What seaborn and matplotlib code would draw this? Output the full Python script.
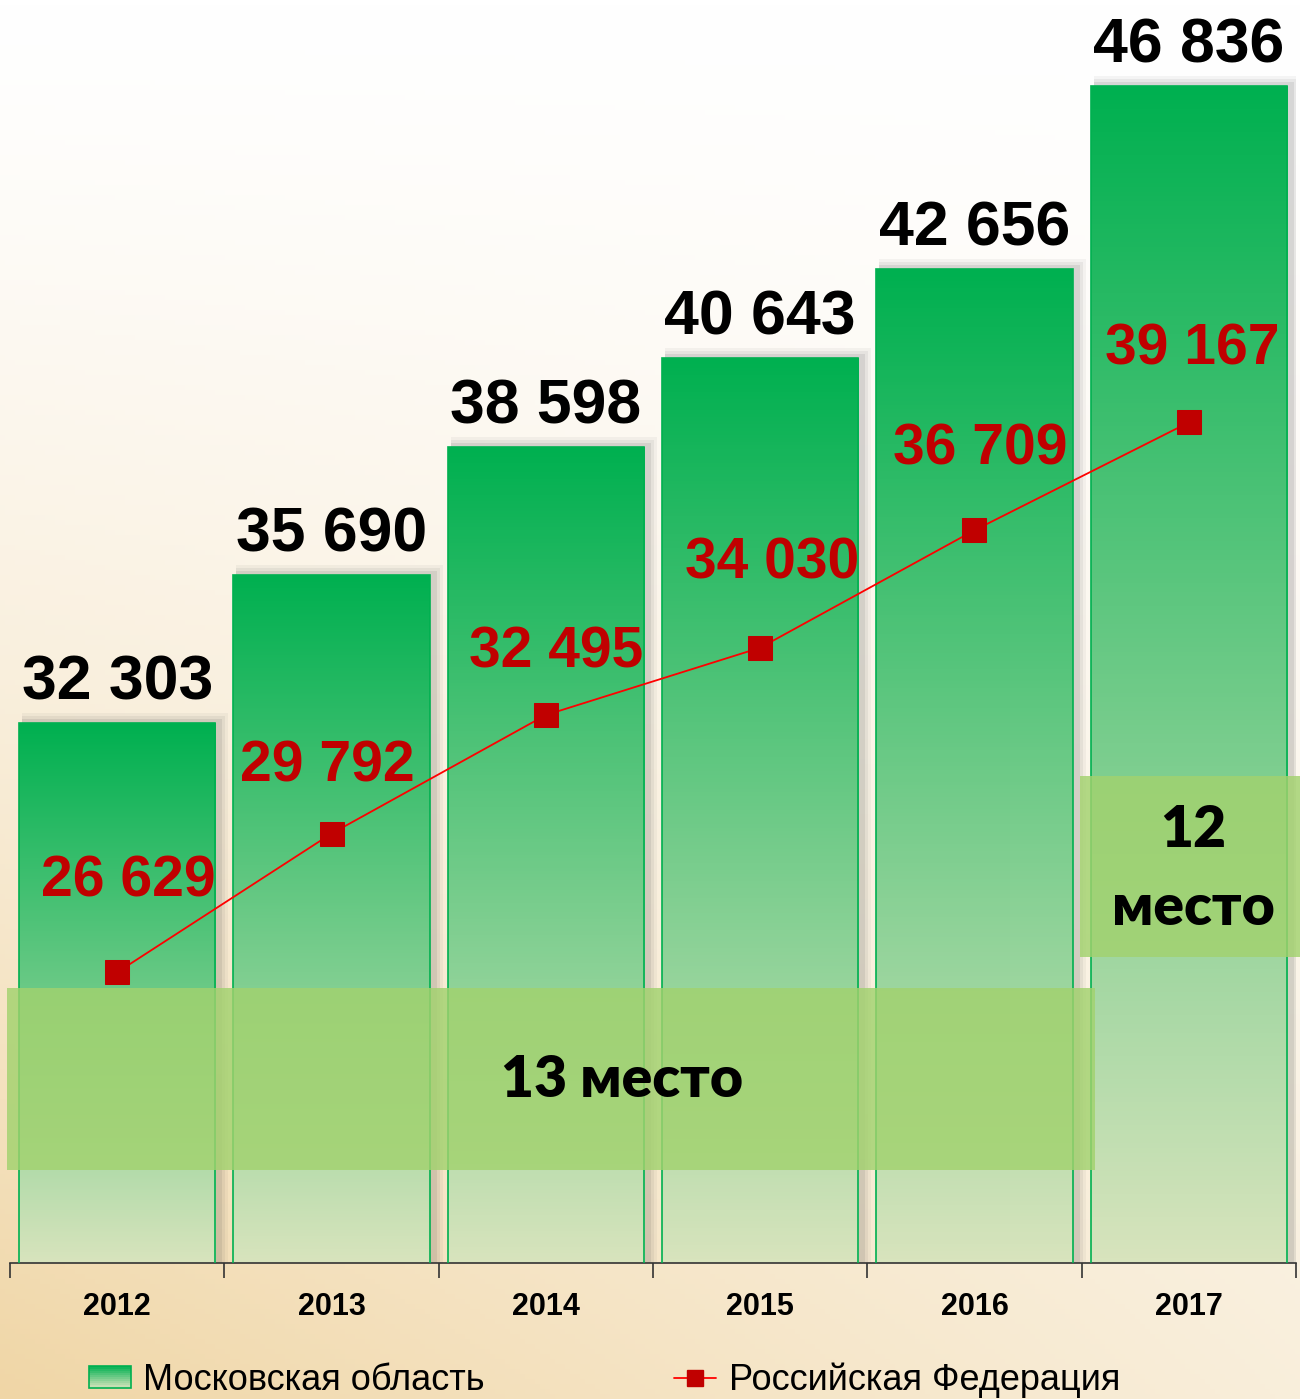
import numpy as np
import pandas as pd
import seaborn as sns
import matplotlib.pyplot as plt
from matplotlib.patches import Rectangle, Patch
from matplotlib.lines import Line2D
from matplotlib.colors import LinearSegmentedColormap
from matplotlib.legend_handler import HandlerBase

# данные
years = ['2012', '2013', '2014', '2015', '2016', '2017']
moscow_obl = [32303, 35690, 38598, 40643, 42656, 46836]
russia = [26629, 29792, 32495, 34030, 36709, 39167]
moscow_lbl = ['32 303', '35 690', '38 598', '40 643', '42 656', '46 836']
russia_lbl = ['26 629', '29 792', '32 495', '34 030', '36 709', '39 167']
# сдвиг красных подписей (px): x, y
russia_off = [(11, 91), (-4, 67), (10, 63), (12, 84), (6, 81), (3, 73)]

W, H = 1300, 1399
sns.set_theme(style='white')
plt.rcParams['font.family'] = ['Liberation Sans', 'DejaVu Sans']
plt.rcParams['text.color'] = 'black'

fig = plt.figure(figsize=(W / 100, H / 100), dpi=100)

# фон
bg = fig.add_axes([0, 0, 1, 1], zorder=-10)
u = np.linspace(0, 1, 260)[None, :]
v = np.linspace(0, 1, 280)[:, None]
t = np.clip(v * (0.5 + 0.5 * (1 - u)), 0, 1) ** 1.3
c0 = np.array([1.0, 1.0, 1.0])
c1 = np.array([0xf0, 0xd6, 0xa6]) / 255
img = c0 + (c1 - c0) * t[..., None]
bg.imshow(img, aspect='auto', extent=[0, 1, 0, 1], origin='upper')
bg.axis('off')

ax = fig.add_axes([10 / W, (H - 1263) / H, 1286 / W, 1263 / H])
ax.set_facecolor('none')

df = pd.DataFrame({'year': years, 'mo': moscow_obl, 'rf': russia})
sns.barplot(data=df, x='year', y='mo', ax=ax, width=0.915, color='#00b050',
            edgecolor='#00b050', linewidth=1.2, zorder=2)

grad = LinearSegmentedColormap.from_list('g', ['#00b050', '#d8e4bd'])
gimg = grad(np.linspace(0, 1, 256))[:, None, :]
px_x = 1 / 214.33
px_y = 1 / 0.043859
for p in ax.patches:
    x0, w, h = p.get_x(), p.get_width(), p.get_height()
    y0 = 20000
    top = p.get_y() + h
    # тень
    for k, a in [(10, 0.05), (7, 0.07), (4, 0.1)]:
        ax.add_patch(Rectangle((x0 + 3 * px_x, y0), w + k * px_x, top - y0 + k * px_y,
                               facecolor='#444444', alpha=a, edgecolor='none', zorder=1))
    im = ax.imshow(gimg, aspect='auto', extent=[x0, x0 + w, y0, top], origin='upper', zorder=2)
    im.set_clip_path(p)
    p.set_facecolor('none')
    p.set_zorder(3)
ax.set_xlim(-0.5, 5.5)
ax.set_ylim(20000, 48800)

sns.lineplot(x=np.arange(len(years)), y=russia, ax=ax, color='#ff0000', linewidth=1.3,
             marker='s', markersize=17, markerfacecolor='#c00000', markeredgecolor='#c00000',
             zorder=5, legend=False)

for i, (val, lbl) in enumerate(zip(moscow_obl, moscow_lbl)):
    ax.annotate(lbl, (i, val), xytext=(0, 40), textcoords='offset pixels', ha='center', va='center',
                fontsize=45, fontweight='bold', color='black', zorder=6)
for i, (val, lbl) in enumerate(zip(russia, russia_lbl)):
    dx, dy = russia_off[i]
    ax.annotate(lbl, (i, val), xytext=(dx, dy), textcoords='offset pixels', ha='center', va='center',
                fontsize=41, fontweight='bold', color='#c00000', zorder=6)

# оси
for s in ['left', 'right', 'top']:
    ax.spines[s].set_visible(False)
ax.spines['bottom'].set_color('#333333')
ax.spines['bottom'].set_linewidth(1.2)
ax.set_yticks([])
ax.set_xlabel('')
ax.set_ylabel('')
ax.set_xticks(range(len(years)))
ax.set_xticklabels(years, fontsize=22, fontweight='bold')
ax.set_xticks(np.arange(-0.5, 6, 1), minor=True)
ax.tick_params(axis='x', which='major', length=0, pad=21, labelcolor='black')
ax.tick_params(axis='x', which='minor', length=11, width=1.2, color='#333333', bottom=True)

# места
fig.add_artist(Rectangle((7 / W, (H - 1170) / H), 1088 / W, 182 / H, transform=fig.transFigure,
                         facecolor='#a2d26e', alpha=0.82, edgecolor='none', zorder=3))
fig.add_artist(Rectangle((1080 / W, (H - 957) / H), 220 / W, 181 / H, transform=fig.transFigure,
                         facecolor='#a2d26e', alpha=0.82, edgecolor='none', zorder=3))
for txt, xx, yy in [('13 место', 622, 1080), ('12', 1193, 830), ('место', 1193, 908)]:
    fig.text(xx / W, (H - yy) / H, txt, ha='center', va='center', fontsize=41, color='black',
             fontweight='heavy', family=['Lato', 'DejaVu Sans'], zorder=4)


# легенда
class GradHandler(HandlerBase):
    def create_artists(self, legend, orig_handle, xdescent, ydescent, width, height, fontsize, trans):
        arts = []
        n = 12
        for i in range(n):
            arts.append(Rectangle((-xdescent, -ydescent + height * (n - 1 - i) / n), width, height / n,
                                  facecolor=grad(i / (n - 1)), edgecolor='none', transform=trans))
        arts.append(Rectangle((-xdescent, -ydescent), width, height, fill=False,
                              edgecolor='#00b050', linewidth=1.2, transform=trans))
        return arts


h1 = Patch(label='Московская область')
h2 = Line2D([], [], color='#ff0000', linewidth=1.3, marker='s', markersize=12,
            markerfacecolor='#c00000', markeredgecolor='#c00000', label='Российская Федерация')
fig.legend(handles=[h1, h2], handler_map={Patch: GradHandler()}, loc='center left',
           bbox_to_anchor=(71 / W, 19 / H), ncol=2, frameon=False, borderpad=0,
           handlelength=1.15, handleheight=0.6, handletextpad=0.35, columnspacing=5.25,
           labelcolor='black', prop={'size': 26})

fig.savefig('out.png', dpi=100)
